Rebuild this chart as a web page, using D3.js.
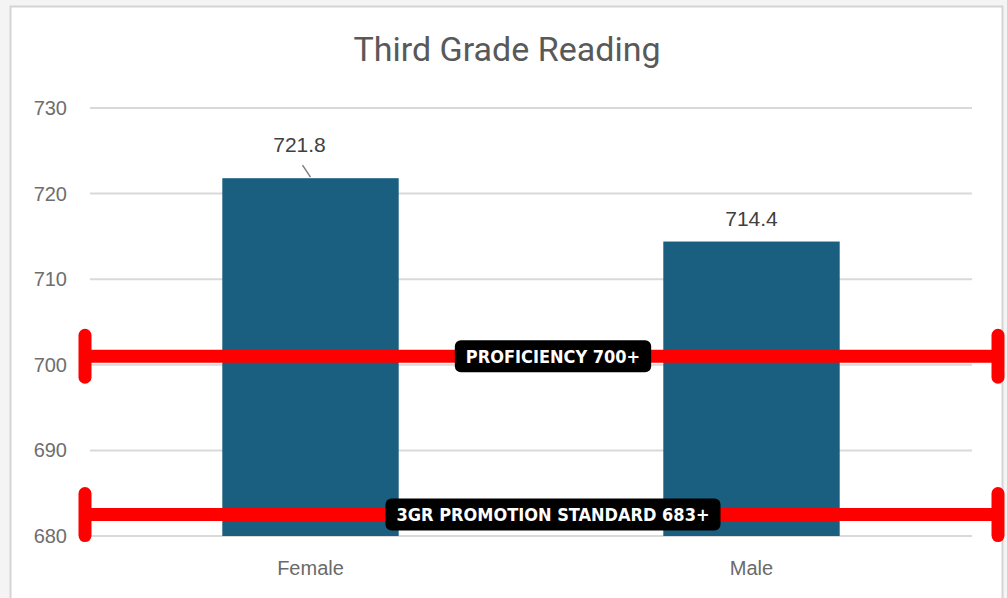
<!DOCTYPE html>
<html>
<head>
<meta charset="utf-8">
<script src="https://cdn.jsdelivr.net/npm/d3@7"></script>
<style>
  html, body { margin: 0; padding: 0; background: #f3f4f3; }
  svg { display: block; }
</style>
</head>
<body>
<svg id="chart" width="1007" height="598"></svg>
<script>
// data
const categories = ["Female", "Male"];
const scores = [721.8, 714.4];
const yTicks = [680, 690, 700, 710, 720, 730];
const refLabels = ["PROFICIENCY 700+", "3GR PROMOTION STANDARD 683+"];
const refValues = [701, 682.5];

const svg = d3.select("#chart");
const W = 1007, H = 598;
const m = {left: 90, right: 35, top: 108, bottom: 62};

// white chart panel
svg.append("rect")
  .attr("x", 10.5).attr("y", 6.5)
  .attr("width", 992).attr("height", 600)
  .attr("fill", "#fff")
  .attr("stroke", "#d4d4d4")
  .attr("stroke-width", 2);

svg.append("text")
  .attr("x", 507).attr("y", 61)
  .attr("text-anchor", "middle")
  .attr("font-family", "Roboto, sans-serif")
  .attr("font-size", 34)
  .attr("fill", "#595959")
  .text("Third Grade Reading");

const x = d3.scaleBand()
  .domain(categories)
  .range([m.left, W - m.right])
  .paddingInner(0.6)
  .paddingOuter(0.3);

const y = d3.scaleLinear()
  .domain([680, 730])
  .range([H - m.bottom, m.top]);

// gridlines
svg.append("g").selectAll("line")
  .data(yTicks)
  .join("line")
  .attr("x1", m.left).attr("x2", W - m.right)
  .attr("y1", d => y(d)).attr("y2", d => y(d))
  .attr("stroke", "#d9d9d9")
  .attr("stroke-width", 2);

svg.append("g").selectAll("text")
  .data(yTicks)
  .join("text")
  .attr("x", 67).attr("y", d => y(d) + 7)
  .attr("text-anchor", "end")
  .attr("font-family", "'Liberation Sans', Arial, sans-serif")
  .attr("font-size", 20)
  .attr("fill", "#6e6e6e")
  .text(d => d);

// bars
svg.append("g").selectAll("rect")
  .data(scores)
  .join("rect")
  .attr("x", (d, i) => x(categories[i]))
  .attr("y", d => y(d))
  .attr("width", x.bandwidth())
  .attr("height", d => y(680) - y(d))
  .attr("fill", "#1a5e80");

// category labels
svg.append("g").selectAll("text")
  .data(categories)
  .join("text")
  .attr("x", d => x(d) + x.bandwidth() / 2)
  .attr("y", H - m.bottom + 39)
  .attr("text-anchor", "middle")
  .attr("font-family", "'Liberation Sans', Arial, sans-serif")
  .attr("font-size", 20)
  .attr("fill", "#6a6a6a")
  .text(d => d);

// value labels (first one was dragged left, has a leader line)
const lblDx = [-11, 0];
svg.append("g").selectAll("text")
  .data(scores)
  .join("text")
  .attr("x", (d, i) => x(categories[i]) + x.bandwidth() / 2 + lblDx[i])
  .attr("y", (d, i) => y(d) - (i == 0 ? 26 : 16))
  .attr("text-anchor", "middle")
  .attr("font-family", "'Liberation Sans', Arial, sans-serif")
  .attr("font-size", 21)
  .attr("fill", "#404040")
  .text(d => d.toFixed(1));

const fx = x(categories[0]) + x.bandwidth() / 2;
svg.append("line")
  .attr("x1", fx - 8).attr("y1", y(scores[0]) - 13)
  .attr("x2", fx).attr("y2", y(scores[0]) - 1)
  .attr("stroke", "#7f7f7f")
  .attr("stroke-width", 1.5);

// red reference lines with end caps
const x0 = 85, x1 = 998;
const ref = svg.append("g");
refValues.forEach(function(v, i){
  const yy = y(v);
  ref.append("line")
    .attr("x1", x0).attr("x2", x1)
    .attr("y1", yy).attr("y2", yy)
    .attr("stroke", "#ff0000")
    .attr("stroke-width", 13);
  [x0, x1].forEach(function(cx){
    ref.append("line")
      .attr("x1", cx).attr("x2", cx)
      .attr("y1", yy - 21).attr("y2", yy + 21)
      .attr("stroke", "#ff0000")
      .attr("stroke-width", 13)
      .attr("stroke-linecap", "round");
  });
  const t = ref.append("text")
    .attr("x", 553).attr("y", yy + 6.5)
    .attr("text-anchor", "middle")
    .attr("font-family", "'DejaVu Sans Condensed', 'DejaVu Sans', sans-serif")
    .attr("font-weight", "bold")
    .attr("font-size", 18)
    .attr("fill", "#fff")
    .text(refLabels[i]);
  const bb = t.node().getBBox();
  ref.insert("rect", function(){ return t.node(); })
    .attr("x", bb.x - 11).attr("y", yy - 16)
    .attr("width", bb.width + 22).attr("height", 32)
    .attr("rx", 6)
    .attr("fill", "#000");
});
</script>
</body>
</html>
